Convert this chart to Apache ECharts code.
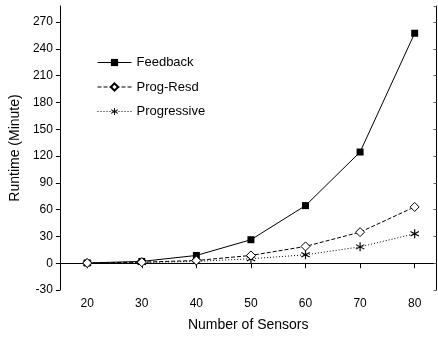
<!DOCTYPE html>
<html>
<head>
<meta charset="utf-8">
<script src="https://cdn.jsdelivr.net/npm/echarts@6/dist/echarts.min.js"></script>
<style>
	html, body { margin: 0; padding: 0; background: #fff; }
	#chart { width: 438px; height: 337px; }
</style>
</head>
<body>
<div id="chart"></div>
<script>
var sensors = [20, 30, 40, 50, 60, 70, 80];
var feedback = [0.3, 2, 8.7, 26.3, 64.5, 124.5, 257.5];
var progResd = [0.2, 1.2, 3, 8.7, 18.8, 34.8, 63];
var progressive = [0.1, 0.8, 2, 5, 9.4, 18.3, 33];
var xTicks = [20, 30, 40, 50, 60, 70, 80];

function pairs(xs, ys) {
	var out = [];
	for (var i = 0; i < xs.length; i++) out.push([xs[i], ys[i]]);
	return out;
}

// six-armed asterisk marker
var asteriskPath = 'path://M4.4,0 L5.6,0 L5.6,10 L4.4,10 Z ' +
	'M0.97,1.98 L9.63,6.98 L9.03,8.02 L0.37,3.02 Z ' +
	'M0.37,6.98 L9.03,1.98 L9.63,3.02 L0.97,8.02 Z';

var font = 'Liberation Sans, Arial, sans-serif';
var black = '#000';

var chart = echarts.init(document.getElementById('chart'));

var axisLineStyle = { show: true, lineStyle: { color: black, width: 1 } };

chart.setOption({
	animation: false,
	grid: { left: 57.5, right: 1.5, top: 6, bottom: 46.5, containLabel: false },
	legend: {
		orient: 'vertical',
		left: 92,
		top: 51,
		itemWidth: 34,
		itemHeight: 9,
		itemGap: 11.5,
		lineStyle: { width: 1 },
		textStyle: { fontFamily: font, fontSize: 13, color: black },
		data: ['Feedback', 'Prog-Resd', 'Progressive']
	},
	xAxis: [
		{
			type: 'value', min: 15, max: 84,
			name: 'Number of Sensors', nameLocation: 'middle', nameGap: 28,
			nameTextStyle: { fontFamily: font, fontSize: 14, color: black },
			axisLine: axisLineStyle,
			axisTick: { show: true, length: 5, customValues: xTicks, lineStyle: { color: black } },
			axisLabel: { customValues: xTicks, margin: 8, fontFamily: font, fontSize: 12, color: black },
			splitLine: { show: false }
		},
		{
			type: 'value', min: 15, max: 84, position: 'top',
			axisLine: axisLineStyle,
			axisTick: { show: true, inside: true, length: 4, customValues: xTicks, lineStyle: { color: black } },
			axisLabel: { show: false },
			splitLine: { show: false }
		}
	],
	yAxis: [
		{
			type: 'value', min: -30, max: 288, interval: 30,
			name: 'Runtime (Minute)', nameLocation: 'middle', nameGap: 37,
			nameTextStyle: { fontFamily: font, fontSize: 14, color: black },
			axisLine: axisLineStyle,
			axisTick: { show: true, length: 4, lineStyle: { color: black } },
			axisLabel: { margin: 7, fontFamily: font, fontSize: 12, color: black, showMaxLabel: false },
			splitLine: { show: false }
		},
		{
			type: 'value', min: -30, max: 288, interval: 30, position: 'right',
			axisLine: axisLineStyle,
			axisTick: { show: true, inside: true, length: 3, lineStyle: { color: '#666' } },
			axisLabel: { show: false },
			splitLine: { show: false }
		}
	],
	series: [
		{
			name: 'Feedback', type: 'line',
			data: pairs(sensors, feedback),
			symbol: 'rect', symbolSize: 7,
			itemStyle: { color: black, borderColor: black, borderWidth: 0 },
			lineStyle: { color: black, width: 1, type: 'solid' },
			z: 3
		},
		{
			name: 'Prog-Resd', type: 'line',
			data: pairs(sensors, progResd),
			symbol: 'diamond', symbolSize: 9,
			showAllSymbol: true,
			itemStyle: { color: '#fff', borderColor: black, borderWidth: 1 },
			lineStyle: { color: black, width: 1, type: [4, 2] },
			z: 4
		},
		{
			name: 'Progressive', type: 'line',
			data: pairs(sensors, progressive),
			symbol: asteriskPath, symbolSize: 9,
			itemStyle: { color: black, borderWidth: 0 },
			lineStyle: { color: black, width: 1, type: [1, 2] },
			z: 2
		}
	]
});
</script>
</body>
</html>
